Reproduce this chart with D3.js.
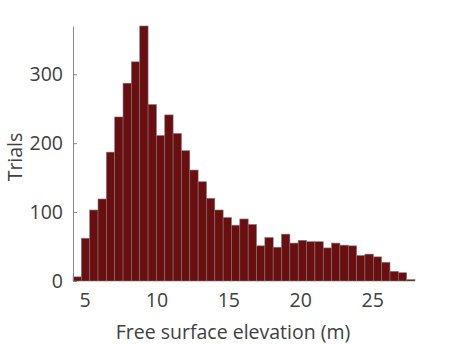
<!DOCTYPE html>
<html><head><meta charset="utf-8">
<script src="https://cdn.jsdelivr.net/npm/d3@7"></script>
<style>body{margin:0;background:#fff}svg{display:block}text{font-family:"Open Sans","Noto Sans",sans-serif;fill:#404040}</style>
</head><body><svg id="c" width="459" height="345"></svg>
<script>
const binStart = 4.2;
const binWidth = 0.58;
const counts = [6,62,103,119,187,238,287,318,370,256,211,241,214,189,161,144,120,103,92,81,90,82,51,63,49,68,55,59,57,57,48,55,52,51,37,39,35,27,14,12,2];
const xTicks = [5,10,15,20,25];
const yTicks = [0,100,200,300];
const xLabel = "Free surface elevation (m)";
const yLabel = "Trials";

const svg = d3.select("#c");
const m = {l:73, r:44, t:26, b:64};
const W = 459, H = 345;
const xEnd = binStart + binWidth*counts.length;
const x = d3.scaleLinear().domain([binStart, xEnd]).range([m.l, W-m.r]);
const y = d3.scaleLinear().domain([0, 370]).range([H-m.b, m.t]);

const bins = counts.map((c,i)=>({x0: binStart+i*binWidth, x1: binStart+(i+1)*binWidth, c}));
svg.append("g").selectAll("rect").data(bins).join("rect")
  .attr("x", d=>x(d.x0)).attr("width", d=>x(d.x1)-x(d.x0))
  .attr("y", d=>y(d.c)).attr("height", d=>y(0)-y(d.c))
  .attr("fill","#6a0e0f").attr("stroke","#7a7a7a").attr("stroke-width",0.6);

// y axis
const ya = svg.append("g").attr("transform",`translate(${m.l},0)`)
  .call(d3.axisLeft(y).tickValues(yTicks).tickSizeInner(-4).tickSizeOuter(0).tickPadding(10));
ya.select(".domain").attr("stroke","#888");
ya.selectAll(".tick line").attr("stroke","#888");
ya.selectAll("text").attr("font-size",19.5).style("fill","#404040");

// x axis
const xa = svg.append("g").attr("transform",`translate(0,${H-m.b})`)
  .call(d3.axisBottom(x).tickValues(xTicks).tickSize(0).tickPadding(12));
xa.select(".domain").remove();
xa.selectAll("text").attr("font-size",19.5).style("fill","#404040");

svg.append("text").attr("x", 233).attr("y", 339).attr("text-anchor","middle")
  .attr("font-size",19.5).text(xLabel);
svg.append("text").attr("transform","translate(22,157) rotate(-90)").attr("text-anchor","middle")
  .attr("font-size",19.5).text(yLabel);
</script></body></html>
